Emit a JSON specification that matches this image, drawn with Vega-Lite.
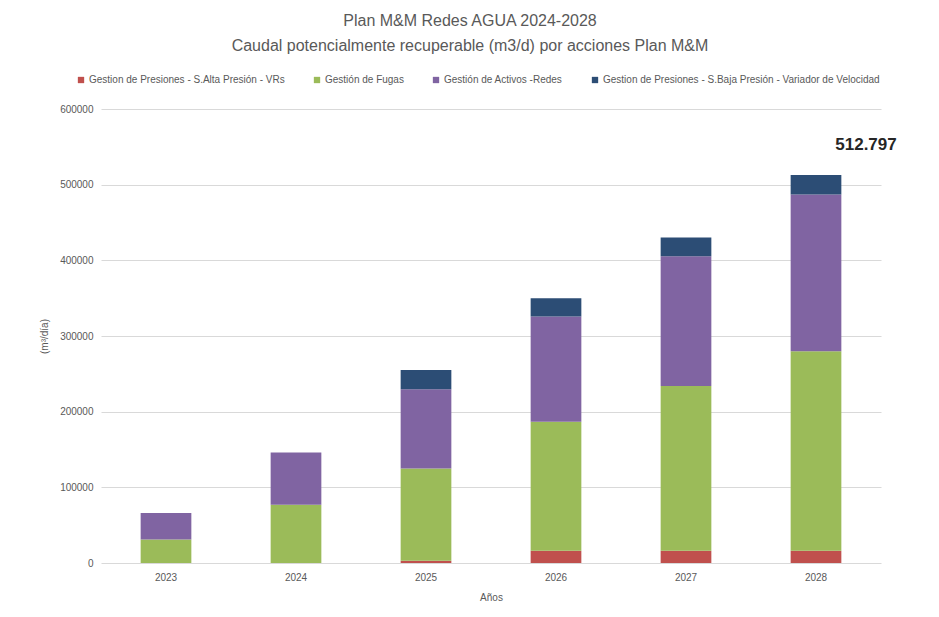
{
  "$schema": "https://vega.github.io/schema/vega-lite/v6.json",
  "width": 780,
  "height": 454,
  "autosize": {"type": "none"},
  "padding": {"left": 101, "top": 109, "right": 58, "bottom": 54},
  "background": "white",
  "title": {
    "text": ["Plan M&M Redes AGUA 2024-2028", "Caudal potencialmente recuperable  (m3/d) por acciones Plan M&M"],
    "anchor": "middle",
    "dx": -21,
    "offset": 21,
    "font": "Liberation Sans",
    "fontSize": 16,
    "fontWeight": "normal",
    "color": "#595959",
    "lineHeight": 25
  },
  "config": {
    "view": {"stroke": null},
    "font": "Liberation Sans"
  },
  "layer": [
    {
      "data": {
        "values": [
          {"anio": "2023", "serie": "Gestion de Presiones - S.Alta Presión - VRs", "orden": 1, "valor": 0},
          {"anio": "2023", "serie": "Gestión de Fugas", "orden": 2, "valor": 31000},
          {"anio": "2023", "serie": "Gestión de Activos -Redes", "orden": 3, "valor": 35000},
          {"anio": "2023", "serie": "Gestion de Presiones - S.Baja Presión - Variador de Velocidad", "orden": 4, "valor": 0},
          {"anio": "2024", "serie": "Gestion de Presiones - S.Alta Presión - VRs", "orden": 1, "valor": 0},
          {"anio": "2024", "serie": "Gestión de Fugas", "orden": 2, "valor": 77000},
          {"anio": "2024", "serie": "Gestión de Activos -Redes", "orden": 3, "valor": 69000},
          {"anio": "2024", "serie": "Gestion de Presiones - S.Baja Presión - Variador de Velocidad", "orden": 4, "valor": 0},
          {"anio": "2025", "serie": "Gestion de Presiones - S.Alta Presión - VRs", "orden": 1, "valor": 3000},
          {"anio": "2025", "serie": "Gestión de Fugas", "orden": 2, "valor": 122000},
          {"anio": "2025", "serie": "Gestión de Activos -Redes", "orden": 3, "valor": 104500},
          {"anio": "2025", "serie": "Gestion de Presiones - S.Baja Presión - Variador de Velocidad", "orden": 4, "valor": 25500},
          {"anio": "2026", "serie": "Gestion de Presiones - S.Alta Presión - VRs", "orden": 1, "valor": 16300},
          {"anio": "2026", "serie": "Gestión de Fugas", "orden": 2, "valor": 170400},
          {"anio": "2026", "serie": "Gestión de Activos -Redes", "orden": 3, "valor": 139000},
          {"anio": "2026", "serie": "Gestion de Presiones - S.Baja Presión - Variador de Velocidad", "orden": 4, "valor": 24300},
          {"anio": "2027", "serie": "Gestion de Presiones - S.Alta Presión - VRs", "orden": 1, "valor": 16300},
          {"anio": "2027", "serie": "Gestión de Fugas", "orden": 2, "valor": 217500},
          {"anio": "2027", "serie": "Gestión de Activos -Redes", "orden": 3, "valor": 171700},
          {"anio": "2027", "serie": "Gestion de Presiones - S.Baja Presión - Variador de Velocidad", "orden": 4, "valor": 24700},
          {"anio": "2028", "serie": "Gestion de Presiones - S.Alta Presión - VRs", "orden": 1, "valor": 16300},
          {"anio": "2028", "serie": "Gestión de Fugas", "orden": 2, "valor": 263700},
          {"anio": "2028", "serie": "Gestión de Activos -Redes", "orden": 3, "valor": 207000},
          {"anio": "2028", "serie": "Gestion de Presiones - S.Baja Presión - Variador de Velocidad", "orden": 4, "valor": 25797}
        ]
      },
      "mark": {"type": "bar"},
      "encoding": {
        "x": {
          "field": "anio",
          "type": "nominal",
          "scale": {"paddingInner": 0.61, "paddingOuter": 0.305},
          "axis": {
            "title": "Años",
            "titleFont": "Liberation Sans",
            "titleFontSize": 10,
            "titleFontWeight": "normal",
            "titleColor": "#595959",
            "titlePadding": 10,
            "labelAngle": 0,
            "labelColor": "#595959",
            "labelFontSize": 10,
            "labelPadding": 9,
            "ticks": false,
            "domain": false
          }
        },
        "y": {
          "field": "valor",
          "type": "quantitative",
          "stack": "zero",
          "scale": {"domain": [0, 600000], "nice": false},
          "axis": {
            "title": "(m³/día)",
            "titleFontSize": 10,
            "titleFontWeight": "normal",
            "titleColor": "#595959",
            "titlePadding": 10,
            "values": [0, 100000, 200000, 300000, 400000, 500000, 600000],
            "format": "d",
            "labelColor": "#595959",
            "labelFontSize": 10,
            "labelPadding": 8,
            "ticks": false,
            "domain": false,
            "grid": true,
            "gridColor": "#d9d9d9",
            "gridWidth": 1
          }
        },
        "color": {
          "field": "serie",
          "type": "nominal",
          "scale": {
            "domain": [
              "Gestion de Presiones - S.Alta Presión - VRs",
              "Gestión de Fugas",
              "Gestión de Activos -Redes",
              "Gestion de Presiones - S.Baja Presión - Variador de Velocidad"
            ],
            "range": ["#C0504D", "#9BBB59", "#8064A2", "#2C4D75"]
          },
          "legend": {
            "orient": "none",
            "legendX": -25,
            "legendY": -34,
            "direction": "horizontal",
            "title": null,
            "symbolType": "square",
            "symbolSize": 40,
            "symbolStrokeWidth": 0,
            "labelFontSize": 10,
            "labelColor": "#595959",
            "labelOffset": 3,
            "labelLimit": 500,
            "columnPadding": 27
          }
        },
        "order": {"field": "orden", "type": "quantitative"}
      }
    },
    {
      "data": {"values": [{"anio": "2028", "total": 512797, "etiqueta": "512.797"}]},
      "mark": {
        "type": "text",
        "fontSize": 17,
        "fontWeight": "bold",
        "color": "#262626",
        "dx": 50,
        "dy": -30,
        "font": "Liberation Sans"
      },
      "encoding": {
        "x": {"field": "anio", "type": "nominal"},
        "y": {"field": "total", "type": "quantitative"},
        "text": {"field": "etiqueta"}
      }
    }
  ]
}
